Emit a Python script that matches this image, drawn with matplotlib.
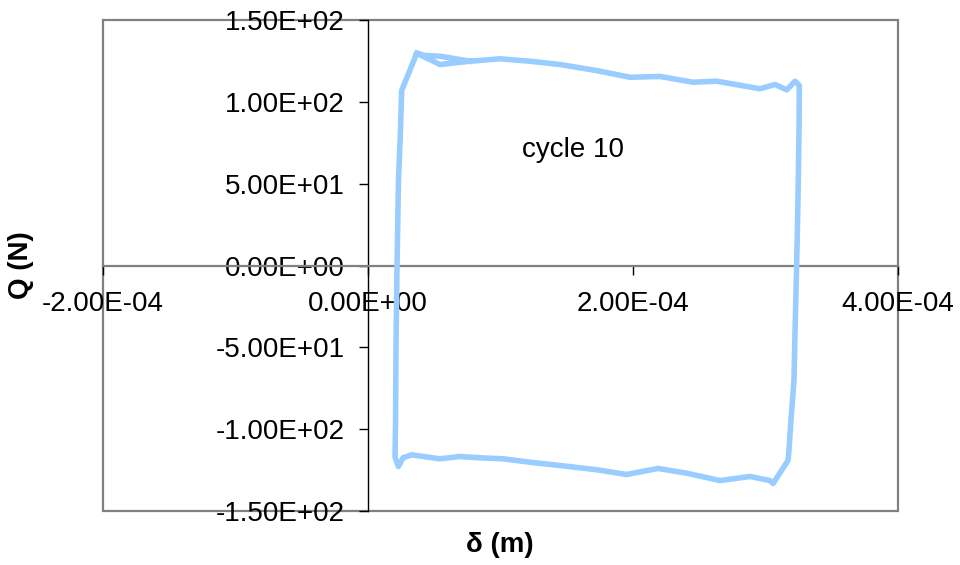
import matplotlib
matplotlib.use("Agg")
import matplotlib.pyplot as plt
from matplotlib.patches import Rectangle
from matplotlib.ticker import FuncFormatter, MultipleLocator

plt.rcParams['font.family'] = ['Liberation Sans', 'DejaVu Sans']

# boucle effort / deplacement, cycle 10
delta = [3.68e-5, 5.43e-5, 7.70e-5, 9.96e-5, 1.223e-4, 1.449e-4, 1.726e-4,
         1.977e-4, 2.204e-4, 2.453e-4, 2.632e-4, 2.958e-4, 3.072e-4, 3.160e-4,
         3.223e-4, 3.255e-4,
         3.253e-4, 3.245e-4, 3.235e-4, 3.223e-4, 3.215e-4, 3.192e-4, 3.177e-4,
         3.170e-4, 3.057e-4, 3.034e-4, 2.883e-4, 2.657e-4, 2.405e-4, 2.189e-4,
         1.952e-4, 1.726e-4, 1.449e-4, 1.223e-4, 1.019e-4, 8.45e-5, 6.94e-5,
         5.43e-5, 3.30e-5, 2.64e-5, 2.29e-5, 2.04e-5,
         2.08e-5, 2.11e-5, 2.19e-5, 2.30e-5, 2.45e-5, 2.54e-5,
         3.68e-5, 4.30e-5, 5.43e-5, 7.70e-5]
Q = [129.7, 122.8, 124.8, 126.3, 124.8, 122.8, 119.1,
     115.0, 115.5, 112.0, 112.6, 108.0, 110.6, 107.3,
     112.6, 110.0,
     82.5, 39.7, 0.0, -39.7, -70.3, -94.7, -113.0,
     -119.1, -133.2, -131.4, -128.9, -131.4, -126.9, -124.0,
     -127.7, -124.8, -122.2, -120.2, -118.1, -117.5, -116.7,
     -118.1, -115.7, -117.5, -122.8, -117.1,
     -94.7, -51.9, 0.0, 51.9, 82.5, 106.9,
     129.7, 128.3, 127.9, 124.8]

fig = plt.figure(figsize=(9.6, 5.65), dpi=100)
ax = fig.add_axes([103 / 960, 54 / 565, 795 / 960, 491 / 565])

ax.plot(delta, Q, color='#99CCFF', lw=4.0, solid_joinstyle='round', zorder=3)

ax.set_xlim(-2e-4, 4e-4)
ax.set_ylim(-150, 150)
ax.xaxis.set_major_locator(MultipleLocator(2e-4))
ax.yaxis.set_major_locator(MultipleLocator(50))
fmt = FuncFormatter(lambda v, p: '{:.2E}'.format(0.0 if abs(v) < 1e-12 else v))
ax.xaxis.set_major_formatter(fmt)
ax.yaxis.set_major_formatter(fmt)

# axes qui se croisent a l'origine
ax.spines['top'].set_visible(False)
ax.spines['right'].set_visible(False)
ax.spines['left'].set_position(('data', 0))
ax.spines['bottom'].set_position(('data', 0))
ax.spines['left'].set_color('black')
ax.spines['left'].set_linewidth(1.0)
ax.spines['bottom'].set_color('#808080')
ax.spines['bottom'].set_linewidth(1.6)
ax.add_patch(Rectangle((0, 0), 1, 1, transform=ax.transAxes, fill=False,
                       ec='#808080', lw=1.6, zorder=1, clip_on=False))

ax.tick_params(axis='y', direction='out', length=6.5, width=1.0, pad=10,
               labelsize=20, color='black')
ax.tick_params(axis='x', direction='out', length=6.5, width=1.0, pad=12,
               labelsize=20, color='black')

ax.text(0.591, 0.735, 'cycle 10', transform=ax.transAxes, fontsize=20,
        ha='center', va='center')

fig.text(500 / 960, 1 - 545 / 565, 'δ (m)', fontsize=20, fontweight='bold',
         ha='center', va='center')
fig.text(21 / 960, 1 - 265 / 565, 'Q (N)', fontsize=20, fontweight='bold',
         ha='center', va='center', rotation=90)

fig.savefig('out.png', dpi=100)
